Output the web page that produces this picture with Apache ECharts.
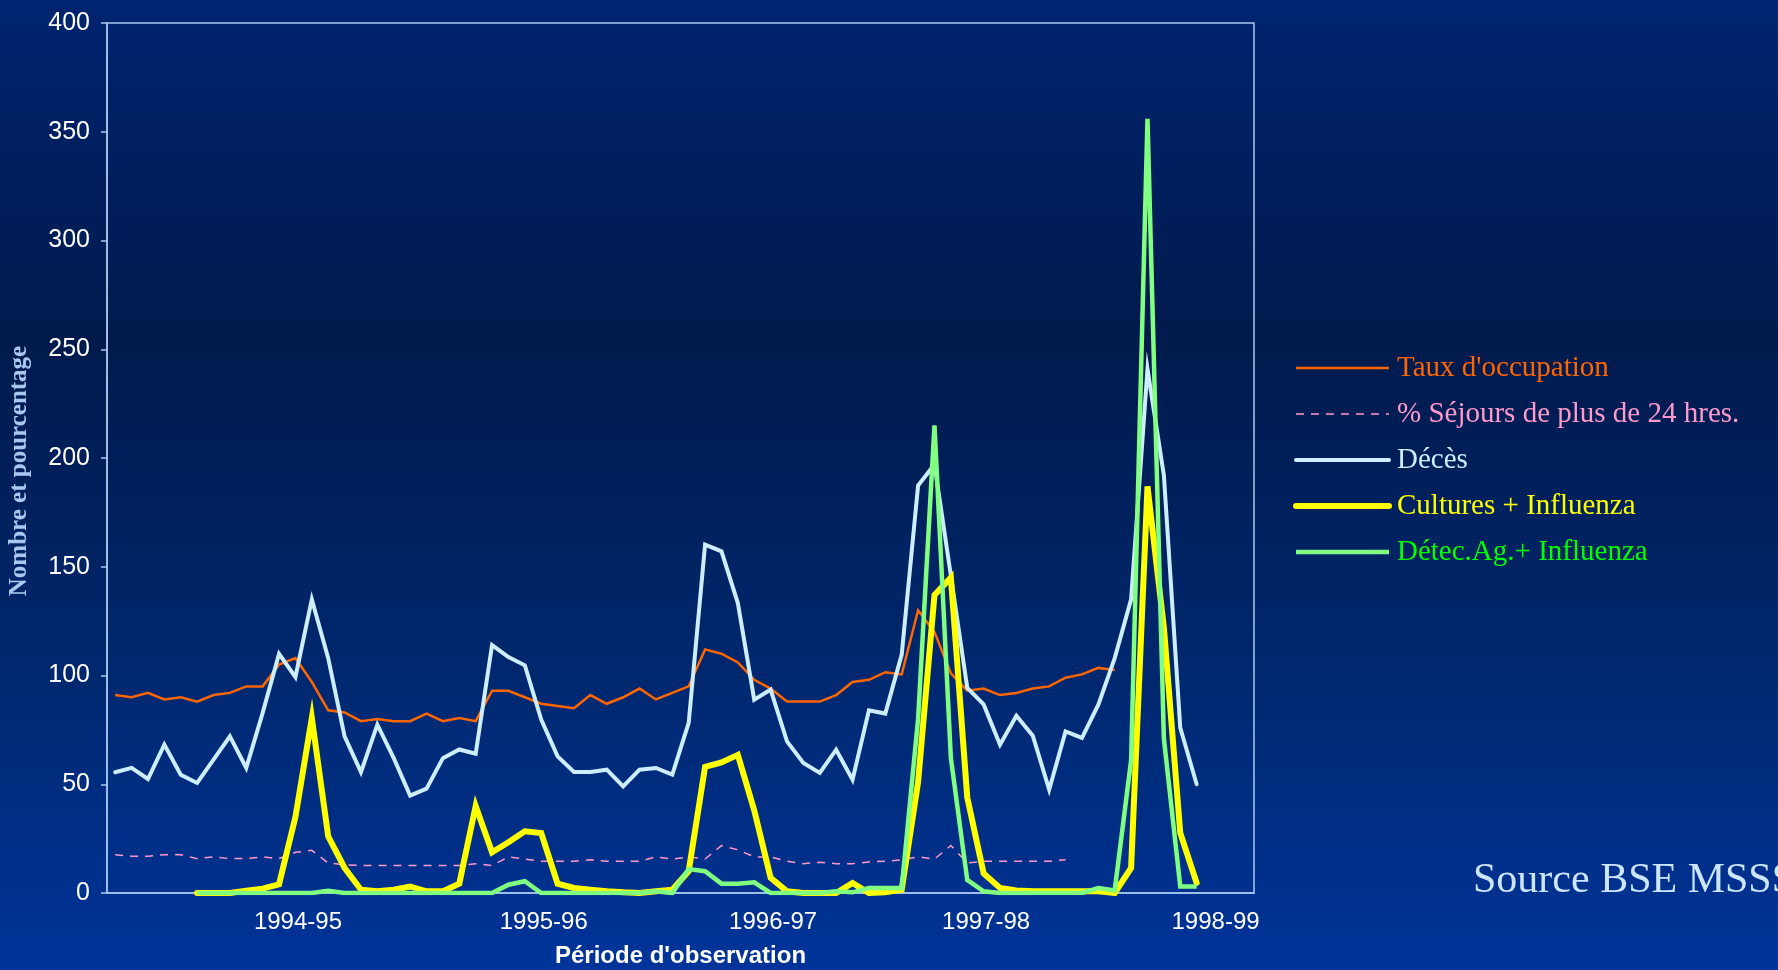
<!DOCTYPE html>
<html><head><meta charset="utf-8">
<script src="https://cdn.jsdelivr.net/npm/echarts@6/dist/echarts.min.js"></script>
<style>html,body{margin:0;padding:0;width:1778px;height:970px;overflow:hidden;background:#001f5c}#c{width:1778px;height:970px}</style>
</head><body><div id="c"></div><script>
// 70 observation periods (x categories)
const periods = ['P01','P02','P03','P04','P05','P06','P07','P08','P09','P10',
  'P11','P12','P13','P14','P15','P16','P17','P18','P19','P20',
  'P21','P22','P23','P24','P25','P26','P27','P28','P29','P30',
  'P31','P32','P33','P34','P35','P36','P37','P38','P39','P40',
  'P41','P42','P43','P44','P45','P46','P47','P48','P49','P50',
  'P51','P52','P53','P54','P55','P56','P57','P58','P59','P60',
  'P61','P62','P63','P64','P65','P66','P67','P68','P69','P70'];
// x tick labels and the period they sit on
const yearTickIndex = [11, 26, 40, 53, 67];
const yearTickLabels = ['1994-95', '1995-96', '1996-97', '1997-98', '1998-99'];

const seriesNames = ["Taux d'occupation", '% Séjours de plus de 24 hres.', 'Décès', 'Cultures + Influenza', 'Détec.Ag.+ Influenza'];

const tauxOccupation = [91, 90, 92, 89, 90, 88, 91, 92, 95, 95,
  105, 108, 97, 84, 83, 79, 80, 79, 79, 82.5,
  79, 80.5, 79, 93, 93, 90, 87, 86, 85, 91,
  87, 90, 94, 89, 92, 95, 112, 110, 106, 98,
  94, 88, 88, 88, 91, 97, 98, 101.5, 100.5, 130,
  120, 101, 93, 94, 91, 92, 94, 95, 99, 100.5,
  103.5, 102.5];

const sejours24h = [17.6, 16.9, 16.9, 17.6, 17.6, 15.8, 16.6, 15.8, 15.9, 16.6,
  15.8, 18.7, 19.6, 13.8, 13, 12.7, 12.7, 12.7, 12.7, 12.7,
  12.7, 12.7, 13.5, 12.6, 16.6, 15.6, 14.6, 14.6, 14.6, 15.3,
  14.6, 14.6, 14.6, 16.6, 15.6, 16.6, 15.6, 21.8, 19.9, 16.6,
  16.6, 14.6, 13.5, 14.1, 13.5, 13.5, 14.3, 14.6, 15.3, 16.6,
  15.6, 21.8, 13.8, 14.6, 14.6, 14.6, 14.6, 14.6, 15.3];

const deces = [55.5, 57.5, 52.4, 68.2, 54.4, 50.6, 61.3, 72, 57.5, 82.8,
  110, 99.3, 135, 108, 72, 55.6, 77.4, 62, 44.8, 48,
  62, 66, 64, 114, 108.5, 104.7, 79.7, 62.8, 55.6, 55.6,
  56.7, 49, 56.7, 57.5, 54.4, 78.2, 160.2, 157.1, 133.3, 88.9,
  93.5, 69.7, 59.8, 55.2, 65.9, 52.1, 84, 82.5, 109.6, 187.3,
  197, 146, 94.3, 86.7, 68.2, 81.5, 72.3, 47.5, 74.3, 71.3,
  86.6, 108, 135, 241, 192, 76, 50];

const culturesInfluenza = [null, null, null, null, null, 0, 0, 0, 1, 2,
  4, 35, 80.5, 26, 11.5, 1.5, 0.8, 1.5, 3, 0.8,
  0.8, 4.3, 40, 18.7, 23.3, 28.4, 27.6, 4.3, 2.3, 1.5,
  0.8, 0.3, 0, 0.8, 1.5, 10, 58, 60, 63.5, 38,
  7, 0.8, 0, 0, 0, 4.6, 0, 0.3, 1.5, 51,
  137, 145, 44, 9, 2.3, 1.2, 0.8, 0.8, 0.8, 0.8,
  0.8, 0, 11.5, 187, 122, 27.6, 4.6];

const detecAgInfluenza = [null, null, null, null, null, 0, 0, 0, 0, 0,
  0, 0, 0, 1, 0, 0, 0, 0, 0, 0,
  0, 0, 0, 0, 3.8, 5.4, 0, 0, 0, 0,
  0, 0, 0, 0.8, 0, 11, 10, 4.3, 4.3, 4.9,
  0, 0, 0, 0, 0.8, 0.3, 2.3, 2.3, 2.3, 80,
  215, 62, 6, 0.8, 0, 0, 0, 0, 0, 0,
  2.3, 1.2, 61, 356, 71, 3, 3];

const axisColor = '#a8c8f0';
const sansFont = "'Liberation Sans', Arial, sans-serif";
const serifFont = "'Liberation Serif', 'Times New Roman', serif";

const chart = echarts.init(document.getElementById('c'), null, {renderer: 'canvas'});

function lineSeries(name, data, color, width, type, z, cap) {
  return {
    name: name, type: 'line', data: data, symbol: 'none', showSymbol: false,
    connectNulls: false, z: z, animation: false,
    lineStyle: {color: color, width: width, type: type, join: 'miter', cap: cap || 'butt'},
    itemStyle: {color: color}
  };
}

chart.setOption({
  backgroundColor: {
    type: 'linear', x: 0, y: 0, x2: 0, y2: 1,
    colorStops: [
      {offset: 0, color: '#002470'},
      {offset: 0.35, color: '#001a4c'},
      {offset: 0.7, color: '#00286f'},
      {offset: 1, color: '#00349a'}
    ]
  },
  animation: false,
  grid: {left: 107, right: 524, top: 23, bottom: 77, show: true,
    containLabel: false, outerBoundsMode: 'none',
    borderColor: axisColor, borderWidth: 1.5, backgroundColor: 'transparent'},
  legend: {
    orient: 'vertical', left: 1293, top: 353, padding: 0,
    itemWidth: 93, itemHeight: 14, itemGap: 16,
    lineStyle: {width: 'inherit'},
    itemStyle: {opacity: 0, borderWidth: 0},
    textStyle: {fontFamily: serifFont, fontSize: 29, lineHeight: 30, padding: [0, 0, 0, 3]},
    data: [
      {name: seriesNames[0], textStyle: {color: '#ff6600'}},
      {name: seriesNames[1], textStyle: {color: '#ff99cc'}},
      {name: seriesNames[2], textStyle: {color: '#cceeff'}},
      {name: seriesNames[3], textStyle: {color: '#ffff00'}},
      {name: seriesNames[4], textStyle: {color: '#00ff00'}}
    ]
  },
  xAxis: {
    type: 'category', data: periods, boundaryGap: true,
    name: "Période d'observation", nameLocation: 'middle', nameGap: 51,
    nameTextStyle: {color: '#ffffff', fontFamily: sansFont, fontWeight: 'bold', fontSize: 24},
    axisLine: {show: true, lineStyle: {color: axisColor, width: 1.5}},
    axisTick: {show: false},
    splitLine: {show: false},
    axisLabel: {
      interval: 0, margin: 17, color: '#ffffff', fontFamily: sansFont, fontSize: 24,
      padding: [0, 0, 0, 5],
      formatter: function (v, idx) {
        const k = yearTickIndex.indexOf(idx);
        return k >= 0 ? yearTickLabels[k] : '';
      }
    }
  },
  yAxis: {
    type: 'value', min: 0, max: 400, interval: 50,
    axisLine: {show: true, lineStyle: {color: axisColor, width: 1.5}},
    axisTick: {show: true, length: 6, lineStyle: {color: axisColor, width: 1.5}},
    splitLine: {show: false},
    axisLabel: {margin: 17, color: '#ffffff', fontFamily: sansFont, fontSize: 25}
  },
  graphic: [{
    type: 'text', x: 20, y: 471, rotation: Math.PI / 2,
    style: {text: 'Nombre et pourcentage', fill: '#a8c8f0', align: 'center', verticalAlign: 'middle',
      font: "bold 25px 'Liberation Serif', serif"}
  }, {
    type: 'text', left: 1473, top: 860,
    style: {text: 'Source BSE MSSS', fill: '#cce6ff', font: "42px 'Liberation Serif', serif"}
  }],
  series: [
    lineSeries(seriesNames[0], tauxOccupation, '#ff6600', 2.5, 'solid', 1),
    lineSeries(seriesNames[1], sejours24h, '#ff99cc', 1.5, [8, 7], 2),
    lineSeries(seriesNames[2], deces, '#cceeff', 4, 'solid', 3, 'round'),
    lineSeries(seriesNames[3], culturesInfluenza, '#ffff00', 6, 'solid', 4, 'round'),
    lineSeries(seriesNames[4], detecAgInfluenza, '#80ff80', 4.5, 'solid', 5)
  ]
});
</script></body></html>
